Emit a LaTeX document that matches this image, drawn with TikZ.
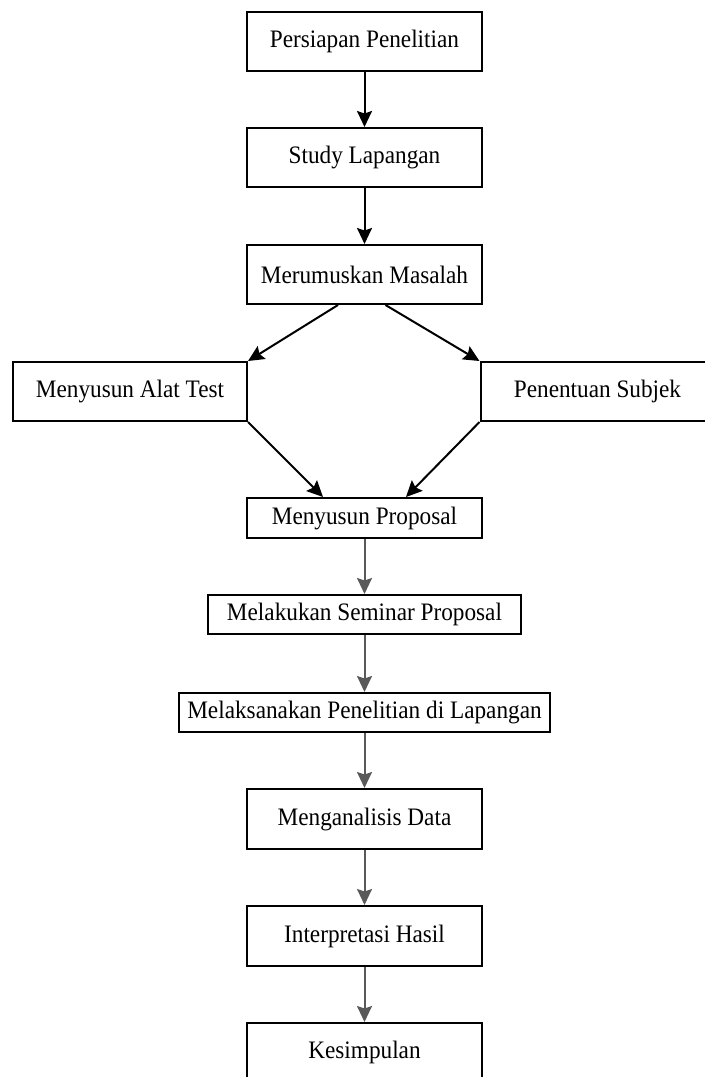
\documentclass[tikz,border=0pt]{standalone}
\usepackage{fontspec,
			tikz
			}
\setmainfont{Liberation Serif}[FakeStretch=0.925]
\usetikzlibrary{arrows.meta}

\begin{document}
\begin{tikzpicture}[
	box/.style = {draw, line width=0.04cm, minimum width=4.7cm, minimum height=1.18cm, inner sep=0pt, font=\fontsize{14.3}{16}\selectfont},
	flow/.style = {line width=0.04cm, -{Stealth[length=0.32cm, width=0.3cm, inset=0.05cm]}},
	flowgray/.style = {flow, draw=black!65}
	]
	\useasboundingbox (0,0) rectangle (14.08,-21.54);
	\node[box] (persiapan) at (7.29,-0.83) {Persiapan Penelitian};
	\node[box] (study) at (7.29,-3.15) {Study Lapangan};
	\node[box] (merumuskan) at (7.29,-5.49) {Merumuskan Masalah};
	\node[box, minimum width=4.68cm] (alat) at (2.60,-7.83) {Menyusun Alat Test};
	\node[box, minimum width=4.68cm] (subjek) at (11.95,-7.83) {Penentuan Subjek};
	\node[box, minimum height=0.8cm] (proposal) at (7.29,-10.36) {Menyusun Proposal};
	\node[box, minimum width=6.26cm, minimum height=0.78cm] (seminar) at (7.29,-12.29) {Melakukan Seminar Proposal};
	\node[box, minimum width=7.42cm, minimum height=0.78cm] (lapangan) at (7.29,-14.25) {Melaksanakan Penelitian di Lapangan};
	\node[box, minimum height=1.2cm] (analisis) at (7.29,-16.38) {Menganalisis Data};
	\node[box, minimum height=1.2cm] (hasil) at (7.29,-18.72) {Interpretasi Hasil};
	\node[box] (simpulan) at (7.29,-21.05) {Kesimpulan};
	\draw[flow] (persiapan) -- (study);
	\draw[flow] (study) -- (merumuskan);
	\draw[flow] ([xshift=-0.53cm]merumuskan.south) -- (alat.north east);
	\draw[flow] ([xshift=0.42cm]merumuskan.south) -- (subjek.north west);
	\draw[flow] (alat.south east) -- ([xshift=-0.83cm]proposal.north);
	\draw[flow] (subjek.south west) -- ([xshift=0.83cm]proposal.north);
	\draw[flowgray] (proposal) -- (seminar);
	\draw[flowgray] (seminar) -- (lapangan);
	\draw[flowgray] (lapangan) -- (analisis);
	\draw[flowgray] (analisis) -- (hasil);
	\draw[flowgray] (hasil) -- (simpulan);
\end{tikzpicture}
\end{document}
